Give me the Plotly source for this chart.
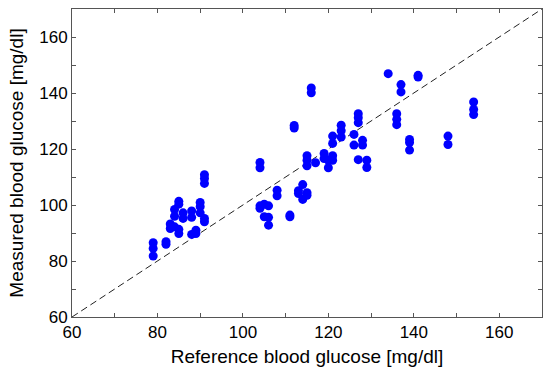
import plotly.graph_objects as go

ref_glucose = [79, 79, 79, 82, 82, 83, 83, 84, 84, 84, 85, 85, 85, 85, 86, 86,
               88, 88, 88, 89, 89, 90, 90, 90, 91, 91, 91, 91, 91,
               104, 104, 104, 104, 105, 105, 106, 106, 106, 108, 108, 111, 111,
               112, 112, 113, 113, 114, 114, 115, 115, 115, 115, 115, 116, 116,
               117, 119, 119, 120, 120, 121, 121, 121, 121, 123, 123, 123,
               126, 126, 127, 127, 127, 127, 128, 128, 129, 129, 134, 136, 136, 136,
               137, 137, 139, 139, 139, 141, 141, 148, 148, 154, 154, 154]
meas_glucose = [86.5, 84.5, 81.8, 86.9, 86.0, 93.2, 91.6, 98.4, 96.0, 92.2,
                101.3, 100.3, 91.3, 89.8, 97.2, 95.2,
                97.9, 95.6, 89.5, 91.0, 89.8, 100.9, 99.4, 97.2,
                110.8, 109.5, 107.7, 95.2, 94.0,
                115.2, 113.3, 99.7, 98.8, 100.3, 95.8, 99.7, 95.6, 92.8,
                105.3, 103.3, 96.4, 95.8,
                128.4, 127.5, 105.1, 104.1, 107.3, 102.0, 104.4, 103.5,
                117.6, 116.0, 114.0, 141.8, 140.1,
                115.1, 118.4, 116.6, 116.0, 113.3, 124.6, 122.0, 117.6, 116.0,
                128.5, 126.5, 124.3,
                125.2, 121.4, 132.6, 131.2, 129.4, 116.2, 123.1, 121.4, 116.0, 113.4,
                146.9, 132.6, 130.6, 128.7, 143.0, 140.4, 123.4, 122.3, 119.6,
                146.3, 145.7, 124.6, 121.6, 136.8, 134.1, 132.3]
identity = [60, 170]

fig = go.Figure()
fig.add_trace(go.Scatter(x=identity, y=identity, mode="lines",
                         line=dict(color="#222222", width=1, dash="7px,4px"),
                         showlegend=False, hoverinfo="skip"))
fig.add_trace(go.Scatter(x=ref_glucose, y=meas_glucose, mode="markers",
                         marker=dict(color="#0000FF", size=9, line=dict(width=0)),
                         showlegend=False))

axis_common = dict(range=[60, 170], dtick=20, tick0=60, ticks="inside", ticklen=4,
                   tickcolor="#555555", showline=True, linecolor="#555555", linewidth=1,
                   mirror="ticks", showgrid=False, zeroline=False, automargin=False,
                   tickfont=dict(family="Liberation Sans, Arial", size=17, color="black"),
                   minor=dict(dtick=10, ticks="inside", ticklen=4, tickcolor="#555555"))

fig.update_layout(
    width=550, height=375,
    margin=dict(l=72, r=8, t=9, b=58),
    plot_bgcolor="white", paper_bgcolor="white",
    font=dict(family="Liberation Sans, Arial", size=17, color="black"),
    xaxis=dict(title=dict(text="Reference blood glucose [mg/dl]", standoff=8,
                          font=dict(size=19)), **axis_common),
    yaxis=dict(title=dict(text="Measured blood glucose [mg/dl]", standoff=10,
                          font=dict(size=19)), **axis_common),
)

fig.write_html("out.html", config={"displayModeBar": False},
               post_script="document.body.style.margin='0';")
